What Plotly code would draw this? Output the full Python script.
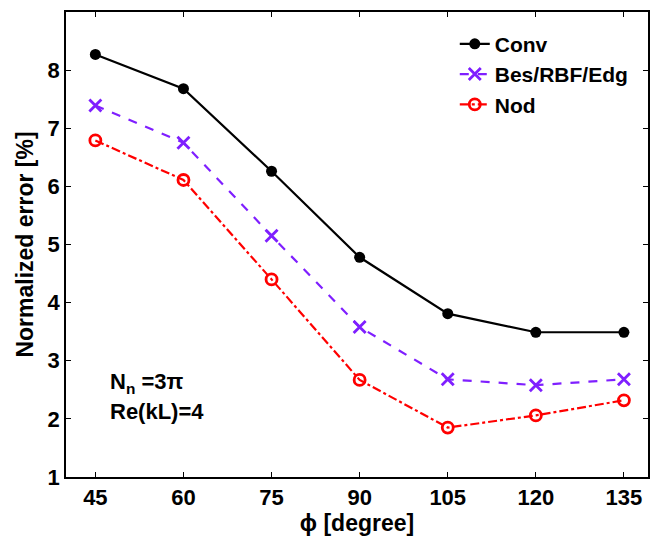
import plotly.graph_objects as go

# Incidence angle phi [degree]
phi = [45, 60, 75, 90, 105, 120, 135]

# Normalized error [%] for each method
conv = [8.27, 7.68, 6.26, 4.78, 3.81, 3.49, 3.49]
bes_rbf_edg = [7.39, 6.75, 5.15, 3.58, 2.68, 2.58, 2.68]
nod = [6.79, 6.11, 4.40, 2.67, 1.85, 2.06, 2.32]

series_names = ["Conv", "Bes/RBF/Edg", "Nod"]
x_ticks = [45, 60, 75, 90, 105, 120, 135]
y_ticks = [1, 2, 3, 4, 5, 6, 7, 8, 9]

FONT = "Liberation Sans, Arial, sans-serif"
PURPLE = "#7F1FFF"

fig = go.Figure()

fig.add_trace(go.Scatter(
    x=phi, y=conv, name=series_names[0], mode="lines+markers",
    line=dict(color="black", width=2.2, dash="solid"),
    marker=dict(symbol="circle", size=11, color="black"),
))
fig.add_trace(go.Scatter(
    x=phi, y=bes_rbf_edg, name=series_names[1], mode="lines+markers",
    line=dict(color=PURPLE, width=2.2, dash="dash"),
    marker=dict(symbol="x-thin-open", size=12, color=PURPLE,
                line=dict(color=PURPLE, width=2.8)),
))
fig.add_trace(go.Scatter(
    x=phi, y=nod, name=series_names[2], mode="lines+markers",
    line=dict(color="red", width=2.2, dash="dashdot"),
    marker=dict(symbol="circle-open", size=11, color="red",
                line=dict(color="red", width=2.8)),
))

axis_common = dict(
    showline=True, linecolor="black", linewidth=1.5, mirror="ticks",
    ticks="inside", ticklen=5, tickwidth=1, tickcolor="black",
    showgrid=False, zeroline=False,
    tickfont=dict(family=FONT, size=22, color="black", weight="bold"),
)

fig.update_xaxes(
    range=[40, 139.1], tickvals=x_ticks,
    title=dict(text="\u03d5 [degree]", font=dict(family=FONT, size=23, color="black", weight="bold"),
               standoff=4),
    **axis_common,
)
fig.update_yaxes(
    range=[1, 9], tickvals=y_ticks,
    title=dict(text="Normalized error [%]", font=dict(family=FONT, size=23, color="black", weight="bold"),
               standoff=8),
    **axis_common,
)

fig.add_annotation(
    x=0.072, y=0.168, xref="paper", yref="paper", xanchor="left", yanchor="bottom",
    text="N<sub>n</sub> =3\u03c0", showarrow=False,
    font=dict(family=FONT, size=22, color="black", weight="bold"),
)
fig.add_annotation(
    x=0.072, y=0.172, xref="paper", yref="paper", xanchor="left", yanchor="top",
    text="Re(kL)=4", showarrow=False,
    font=dict(family=FONT, size=22, color="black", weight="bold"),
)

fig.update_layout(
    width=652, height=542,
    margin=dict(l=66, r=2, t=12, b=65),
    paper_bgcolor="white", plot_bgcolor="white",
    showlegend=True,
    legend=dict(
        x=0.668, y=0.975, xanchor="left", yanchor="top",
        bgcolor="rgba(0,0,0,0)", borderwidth=0,
        font=dict(family=FONT, size=21, color="black", weight="bold"),
        traceorder="normal",
    ),
)

fig.write_html("out.html")
